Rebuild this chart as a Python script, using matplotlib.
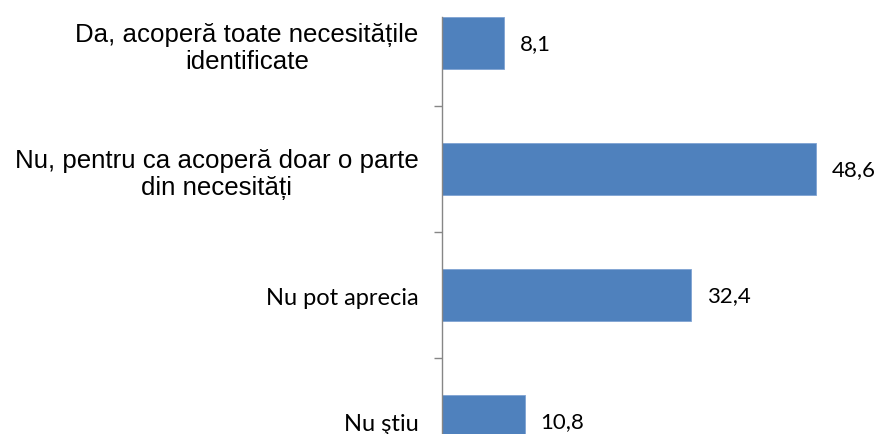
import numpy as np
import matplotlib.pyplot as plt

# raspunsuri si procente
categorii = ["Da, acoperă toate necesitățile\nidentificate",
             "Nu, pentru ca acoperă doar o parte\ndin necesități",
             "Nu pot aprecia",
             "Nu ştiu"]
valori = [8.1, 48.6, 32.4, 10.8]
etichete_valori = ["8,1", "48,6", "32,4", "10,8"]

# primele doua etichete sunt in Arial, restul in Calibri
fonturi_cat = ["Liberation Sans", "Liberation Sans", "Lato", "Lato"]

fig = plt.figure(figsize=(8.79, 4.35), dpi=100)
ax = fig.add_axes([0.5028, -0.115, 0.5256, 1.1586])

y = np.arange(len(valori))
latime = 0.41
ax.barh(y, valori, height=latime, color="#4F81BD", edgecolor="#7FA3D3", linewidth=0.6)

ax.set_ylim(len(valori) - 0.5, -0.5)
ax.set_xlim(0, 60)

ax.set_yticks(y)
ax.set_yticklabels(categorii)
for lbl, f in zip(ax.get_yticklabels(), fonturi_cat):
    lbl.set_fontfamily(f)
    lbl.set_fontsize(18.6 if f == "Liberation Sans" else 17)
    lbl.set_multialignment("center")
ax.tick_params(axis="y", which="major", length=0, pad=17)

# liniile mici dintre categorii
ax.set_yticks(np.arange(len(valori) + 1) - 0.5, minor=True)
ax.tick_params(axis="y", which="minor", length=6, color="#868686", width=1)

ax.set_xticks([])
for s in ["top", "right", "bottom"]:
    ax.spines[s].set_visible(False)
ax.spines["left"].set_color("#868686")
ax.spines["left"].set_linewidth(1)
ax.spines["left"].set_bounds(-latime / 2, len(valori) - 0.5)

for yi, v, t in zip(y, valori, etichete_valori):
    ax.annotate(t, (v, yi), xytext=(11, 0), textcoords="offset points",
                va="center", ha="left", fontfamily="Lato", fontsize=16)

fig.savefig("out.png", dpi=100)
